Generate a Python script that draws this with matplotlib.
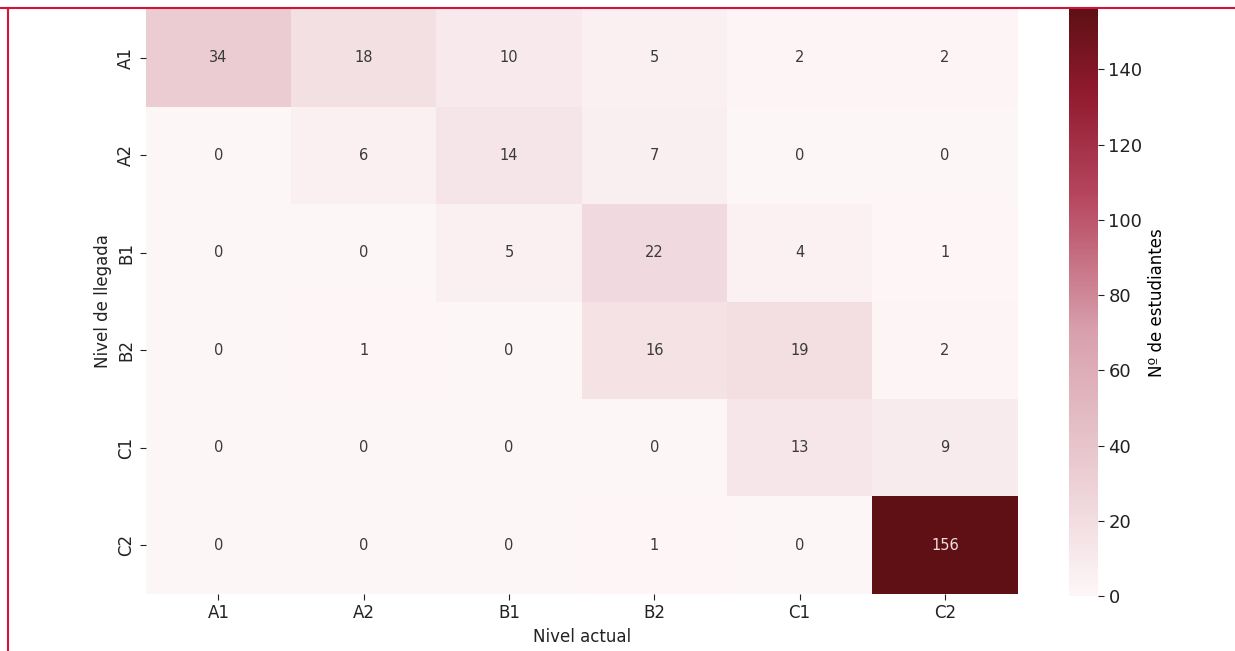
import matplotlib
matplotlib.use("Agg")
import matplotlib.pyplot as plt
import numpy as np
import seaborn as sns
from matplotlib.colors import LinearSegmentedColormap
from matplotlib.lines import Line2D

niveles = ["A1", "A2", "B1", "B2", "C1", "C2"]
row_A1 = [34, 18, 10, 5, 2, 2]
row_A2 = [0, 6, 14, 7, 0, 0]
row_B1 = [0, 0, 5, 22, 4, 1]
row_B2 = [0, 1, 0, 16, 19, 2]
row_C1 = [0, 0, 0, 0, 13, 9]
row_C2 = [0, 0, 0, 1, 0, 156]
cbar_ticks = [0, 20, 40, 60, 80, 100, 120, 140]

data = np.array([row_A1, row_A2, row_B1, row_B2, row_C1, row_C2])

cmap = LinearSegmentedColormap.from_list(
    "wred",
    [(0.0, "#fdf6f7"), (0.22, "#eacbd1"), (0.45, "#d8a0ad"),
     (0.68, "#b6475f"), (0.86, "#901a2e"), (1.0, "#5e1014")])

fig = plt.figure(figsize=(12.35, 6.51), dpi=100)
ax = fig.add_axes([0.118, 0.0876, 0.706, 0.8985])
cax = fig.add_axes([0.8656, 0.0845, 0.0235, 0.9015])

sns.heatmap(data, ax=ax, cbar_ax=cax, cmap=cmap, vmin=0, vmax=156,
            annot=True, fmt="d", annot_kws={"fontsize": 10.5},
            xticklabels=niveles, yticklabels=niveles,
            cbar_kws={"label": "Nº de estudiantes", "ticks": cbar_ticks})

for t in ax.texts:
    if t.get_text() == "156":
        t.set_color("#f0e0e0")
    else:
        t.set_color("#3a3a3a")

ax.set_xlabel("Nivel actual", fontsize=12, color="#222222")
ax.set_ylabel("Nivel de llegada", fontsize=12, color="#222222")
ax.tick_params(axis="both", labelsize=12, colors="#222222", length=4)
plt.setp(ax.get_yticklabels(), rotation=90, va="center")
plt.setp(ax.get_xticklabels(), rotation=0)
cax.tick_params(labelsize=13, colors="#222222", length=4)
cax.yaxis.label.set_size(12)
for s in cax.spines.values():
    s.set_visible(False)

fig.add_artist(Line2D([0, 1], [0.987, 0.987], transform=fig.transFigure,
                      color="#d2143c", lw=1.5))
fig.add_artist(Line2D([0.0068, 0.0068], [0, 0.987], transform=fig.transFigure,
                      color="#d2143c", lw=1.5))

fig.savefig("out.png", dpi=100)
